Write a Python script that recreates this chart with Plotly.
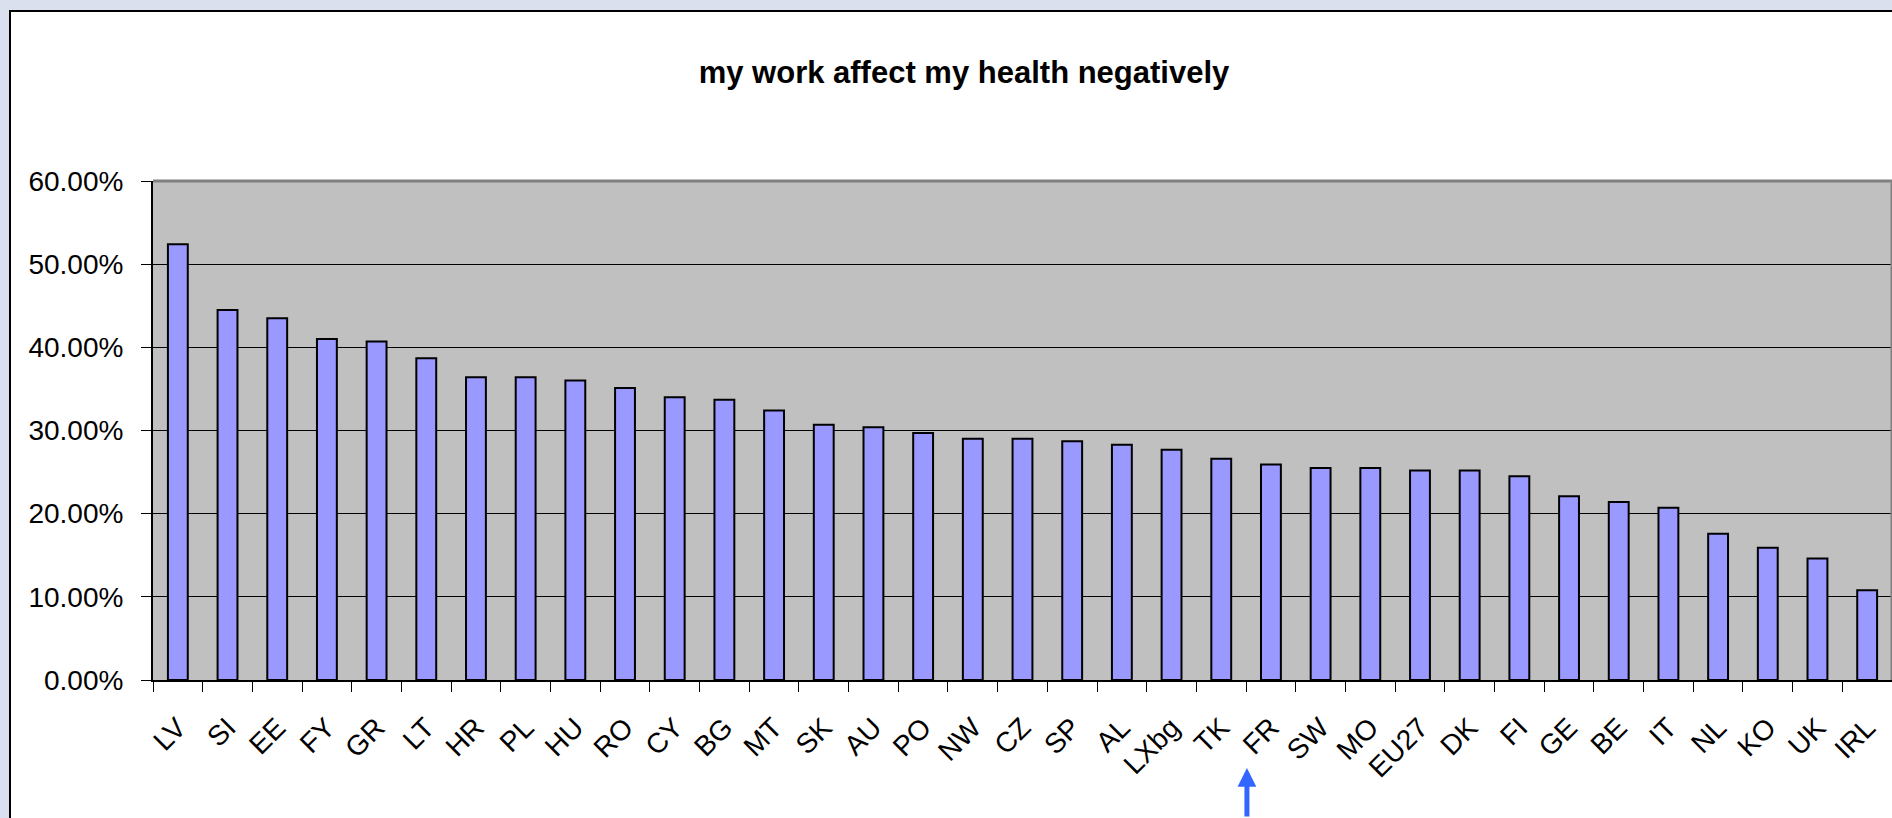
import plotly.graph_objects as go

countries = ["LV", "SI", "EE", "FY", "GR", "LT", "HR", "PL", "HU", "RO", "CY", "BG", "MT", "SK",
             "AU", "PO", "NW", "CZ", "SP", "AL", "LXbg", "TK", "FR", "SW", "MO", "EU27", "DK", "FI",
             "GE", "BE", "IT", "NL", "KO", "UK", "IRL"]
values = [52.4, 44.5, 43.5, 41.0, 40.7, 38.7, 36.4, 36.4, 36.0, 35.1, 34.0, 33.7, 32.4, 30.7,
          30.4, 29.7, 29.0, 29.0, 28.7, 28.3, 27.7, 26.6, 25.9, 25.5, 25.5, 25.2, 25.2, 24.5,
          22.1, 21.4, 20.7, 17.6, 15.9, 14.6, 10.8]
y_ticks = [0, 10, 20, 30, 40, 50, 60]
y_tick_labels = ["0.00%", "10.00%", "20.00%", "30.00%", "40.00%", "50.00%", "60.00%"]
title_text = "my work affect my health negatively"
highlight = "FR"

W, H = 1892, 818
L, R, T, B = 153, 0, 181, 138
pw, ph = W - L - R, H - T - B

def px_x(p):
    return (p - L) / pw

def px_y(p):
    return (H - B - p) / ph

FONT = "Liberation Sans, Arial, sans-serif"

fig = go.Figure()
fig.add_trace(go.Bar(
    x=countries, y=values,
    marker=dict(color="#9999ff", line=dict(color="#000000", width=2)),
    hoverinfo="x+y",
))

shapes = [
    dict(type="rect", xref="paper", yref="paper", layer="below",
         x0=px_x(10), x1=px_x(1960), y0=px_y(900), y1=px_y(11),
         fillcolor="#ffffff", line=dict(color="#000000", width=2)),
    dict(type="rect", xref="paper", yref="paper", layer="below",
         x0=0, x1=1, y0=0, y1=1, fillcolor="#c0c0c0", line=dict(width=0)),
    dict(type="line", xref="paper", yref="paper", layer="above",
         x0=0, x1=1, y0=1, y1=1, line=dict(color="#808080", width=3)),
    dict(type="line", xref="paper", yref="paper", layer="above",
         x0=1, x1=1, y0=0, y1=1, line=dict(color="#808080", width=3)),
]

fig.update_layout(
    width=W, height=H,
    margin=dict(l=L, r=R, t=T, b=B, pad=0, autoexpand=False),
    paper_bgcolor="#dbe0ef",
    plot_bgcolor="rgba(0,0,0,0)",
    showlegend=False,
    bargap=0.6,
    font=dict(family=FONT, color="#000000"),
    title=dict(text="<b>" + title_text + "</b>", x=964 / W, xref="container", xanchor="center",
               y=1 - 72 / H, yref="container", yanchor="middle",
               font=dict(family=FONT, size=31, color="#000000")),
    shapes=shapes,
)

fig.update_xaxes(
    type="category",
    automargin=False,
    showline=True, linecolor="#000000", linewidth=2,
    ticks="outside", ticklen=10, tickcolor="#000000", tickwidth=1,
    tickson="boundaries",
    tickangle=-45,
    tickfont=dict(family=FONT, size=28, color="#000000"),
    ticklabelstandoff=18,
    showgrid=False,
    range=[-0.5, len(countries) - 0.5],
)

fig.update_yaxes(
    automargin=False,
    range=[0, 60],
    tickmode="array", tickvals=y_ticks, ticktext=y_tick_labels,
    showline=True, linecolor="#000000", linewidth=2,
    ticks="outside", ticklen=10, tickcolor="#000000", tickwidth=1,
    tickfont=dict(family=FONT, size=28, color="#000000"),
    ticklabelstandoff=12,
    showgrid=True, gridcolor="#000000", gridwidth=1,
    zeroline=False,
)

fig.add_annotation(
    xref="x", x=highlight, xshift=-24,
    yref="paper", y=px_y(768),
    ax=0, ay=70, axref="pixel", ayref="pixel",
    text="", showarrow=True,
    arrowhead=2, arrowsize=0.75, arrowwidth=5, arrowcolor="#3366ff",
)

fig.write_html(
    "out.html",
    config={"displayModeBar": False},
    post_script="document.body.style.margin='0';document.body.style.overflow='hidden';",
)
